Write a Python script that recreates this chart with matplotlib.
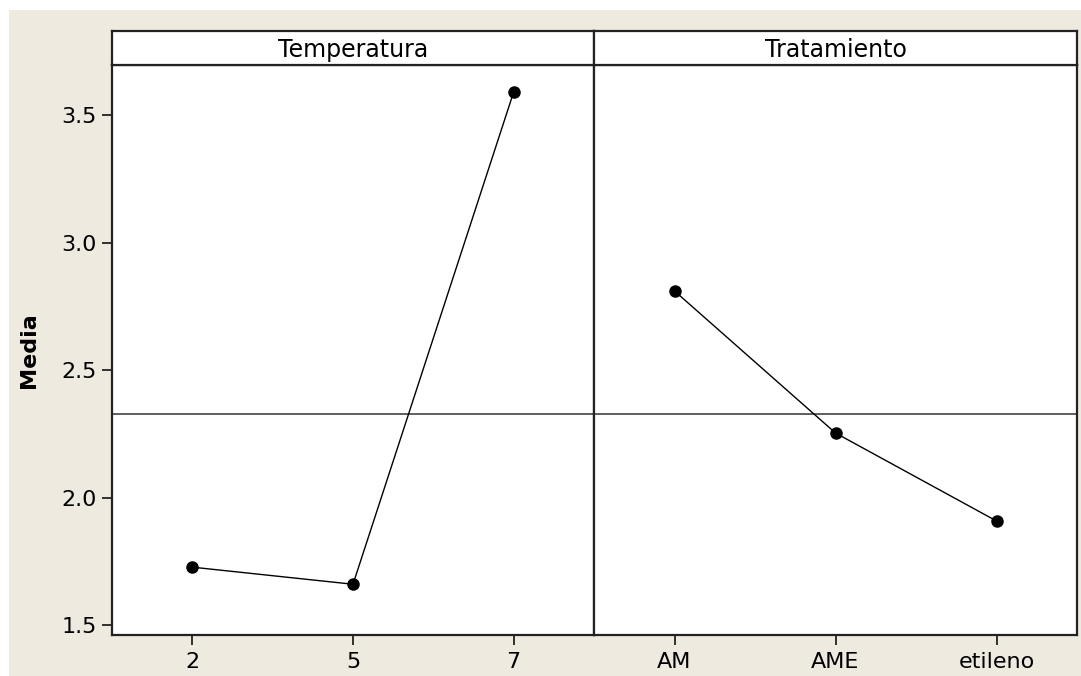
import matplotlib.pyplot as plt
import matplotlib.patches as mpatches
import numpy as np

# Main effects data (means)
temp_levels = ["2", "5", "7"]
temp_means = [1.727, 1.660, 3.590]
trat_levels = ["AM", "AME", "etileno"]
trat_means = [2.810, 2.253, 1.908]

panel_titles = ["Temperatura", "Tratamiento"]
ylabel = "Media"
yticks = [1.5, 2.0, 2.5, 3.0, 3.5]

W, H = 1081, 676
fig = plt.figure(figsize=(W / 100, H / 100), dpi=100)
fig.patch.set_facecolor("white")

# beige background, leaving a thin white margin top and left
fig.patches.append(mpatches.Rectangle((9 / W, 0), 1, 1 - 10 / H, transform=fig.transFigure,
                                      facecolor="#eeeae0", edgecolor="none", zorder=-10))

grand_mean = np.mean(temp_means)

left, mid, right = 112 / W, 594 / W, 1077 / W
bottom, top, strip_top = 1 - 635 / H, 1 - 65 / H, 1 - 31 / H
edge = "#222222"
fs = 16

panels = [(temp_levels, temp_means), (trat_levels, trat_means)]
x0s = [left, mid]
widths = [mid - left, right - mid]

for i, (levels, means) in enumerate(panels):
    ax = fig.add_axes([x0s[i], bottom, widths[i], top - bottom])
    ax.set_facecolor("white")
    x = np.arange(len(levels))
    ax.axhline(grand_mean, color="#333333", lw=1.1, zorder=1)
    ax.plot(x, means, color="black", lw=1.0, marker="o", ms=8, zorder=3)
    ax.set_xlim(-0.5, len(levels) - 0.5)
    ax.set_ylim(1.461, 3.696)
    ax.set_xticks(x)
    ax.set_xticklabels(levels, fontsize=fs)
    ax.tick_params(axis="x", length=7, width=1.3, color=edge, pad=5)
    if i == 0:
        ax.set_yticks(yticks)
        ax.set_yticklabels([f"{v:.1f}" for v in yticks], fontsize=fs)
        ax.tick_params(axis="y", length=7, width=1.3, color=edge, pad=4)
        ax.set_ylabel(ylabel, fontsize=fs, fontweight="bold", labelpad=16)
    else:
        ax.set_yticks([])
    for sp in ax.spines.values():
        sp.set_color(edge)
        sp.set_linewidth(1.6)

    # strip with panel title
    sax = fig.add_axes([x0s[i], top, widths[i], strip_top - top])
    sax.set_facecolor("white")
    sax.set_xticks([])
    sax.set_yticks([])
    for sp in sax.spines.values():
        sp.set_color(edge)
        sp.set_linewidth(1.6)
    sax.text(0.5, 0.45, panel_titles[i], ha="center", va="center", fontsize=17,
             transform=sax.transAxes)

fig.savefig("out.png", dpi=100, facecolor=fig.get_facecolor())
